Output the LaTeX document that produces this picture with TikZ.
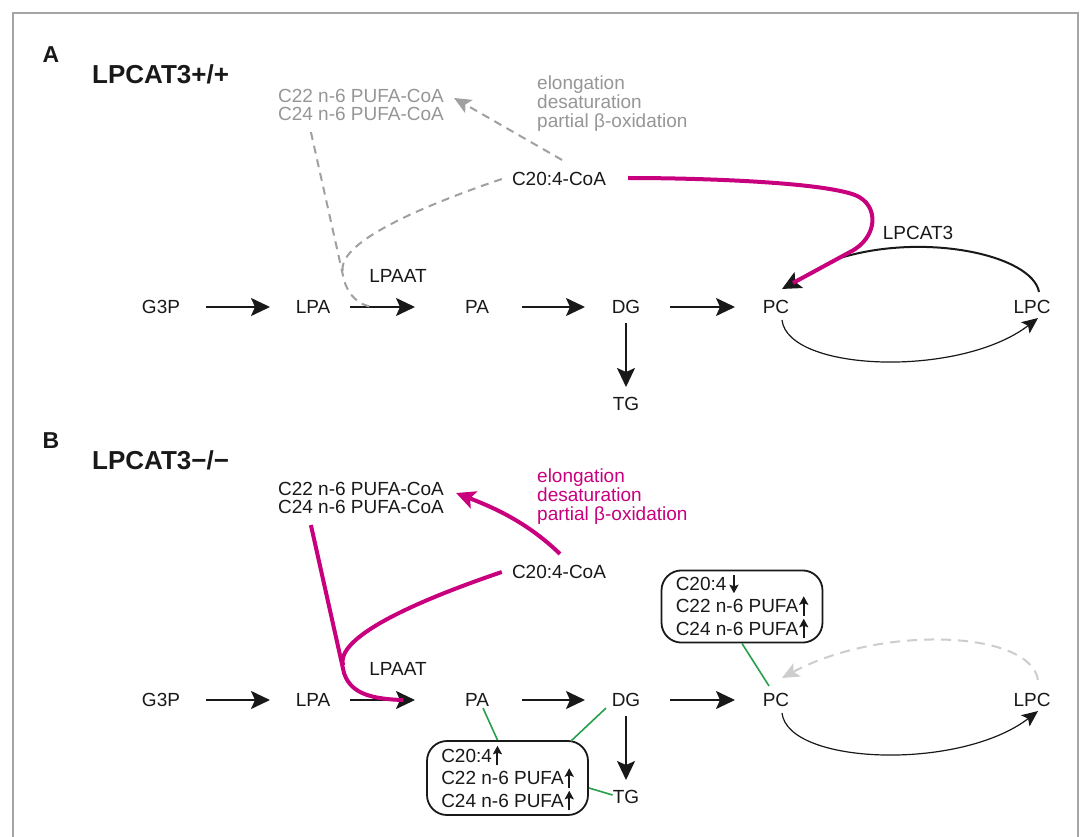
\documentclass[tikz,border=0pt]{standalone}
\usepackage{fontspec}
\setmainfont{Liberation Sans}
\usetikzlibrary{arrows.meta,calc}
\definecolor{mag}{RGB}{200,0,125}
\definecolor{gtxt}{RGB}{150,150,150}
\definecolor{gdash}{RGB}{160,160,160}
\definecolor{lgdash}{RGB}{205,205,205}
\definecolor{grn}{RGB}{40,160,75}
\definecolor{framec}{RGB}{165,165,165}
\definecolor{ink}{RGB}{25,25,25}
\tikzset{
  lbl/.style={inner sep=0pt,text height=13.7pt,text depth=0pt,text=ink},
  arr/.style={draw=ink,line width=2pt,-{Stealth[length=19pt,width=18pt,inset=4pt]}},
  thinarr/.style={draw=ink,line width=1.2pt,-{Stealth[length=16pt,width=14pt,inset=3.5pt]}},
  magl/.style={draw=mag,line width=4pt},
  gdashl/.style={draw=gdash,line width=2pt,dash pattern=on 8pt off 6pt},
  lgdashl/.style={draw=lgdash,line width=2pt,dash pattern=on 10pt off 7pt},
  gline/.style={draw=grn,line width=1.6pt},
  boxs/.style={draw=ink,line width=1.8pt,rounded corners=20pt,minimum width=161pt,
    align=left,inner xsep=12pt,text=ink,font=\fontsize{19}{19.5}\selectfont},
  ttl/.style={inner sep=0pt,text=ink},
  smallarr/.style={draw=ink,line width=2pt,-{Stealth[length=8.5pt,width=9pt,inset=1.5pt]}}
}
\newcommand\uarr{\hspace{1pt}\tikz[baseline=0pt]\draw[smallarr] (0pt,-3pt) -- (0pt,16.5pt);}
\newcommand\darr{\hspace{3pt}\tikz[baseline=0pt]\draw[smallarr] (0pt,15.5pt) -- (0pt,-3pt);}
\newcommand\panelbase[3]{%
  \node[lbl,text=#2] (#1c22a) at (361,96) {C22 n-6 PUFA-CoA};
  \node[lbl,text=#2] (#1c22b) at (361,114) {C24 n-6 PUFA-CoA};
  \node[lbl,text=#3,anchor=west] (#1ela) at (537,83) {elongation};
  \node[lbl,text=#3,anchor=west] (#1elb) at (537,102) {desaturation};
  \node[lbl,text=#3,anchor=west] (#1elc) at (537,121) {partial β-oxidation};
  \node[lbl] (#1coa) at (559,179) {C20:4-CoA};
  \node[lbl] (#1lpaat) at (398,276) {LPAAT};
  \node[lbl] (#1g3p) at (161,307) {G3P};
  \node[lbl] (#1lpa) at (313,307) {LPA};
  \node[lbl] (#1pa) at (477,307) {PA};
  \node[lbl] (#1dg) at (626,307) {DG};
  \node[lbl] (#1pc) at (776,307) {PC};
  \node[lbl] (#1lpc) at (1032,307) {LPC};
  \node[lbl] (#1tg) at (626,404) {TG};
  \draw[arr,shorten <=45pt,shorten >=43pt] (#1g3p.center) -- (#1lpa.center);
  \draw[arr,shorten <=37pt,shorten >=62pt] (#1lpa.center) -- (#1pa.center);
  \draw[arr,shorten <=45pt,shorten >=41pt] (#1pa.center) -- (#1dg.center);
  \draw[arr,shorten <=44pt,shorten >=41pt] (#1dg.center) -- (#1pc.center);
  \draw[arr,shorten <=16pt,shorten >=17pt] (#1dg.center) -- (#1tg.center);
  \draw[thinarr] ($(#1pc.south)+(6,6)$) .. controls (788,372) and (960,378) .. ($(#1lpc.south)+(6,4)$);
}
\begin{document}
\begin{tikzpicture}[x=1pt,y=-1pt,font=\fontsize{19}{19.5}\selectfont]
\useasboundingbox (0,0) rectangle (1084,837);
\fill[white] (0,0) rectangle (1084,837);
\draw[framec,line width=1.3pt] (13,13) rectangle (1078,880);
% titles
\node[ttl,font=\bfseries\fontsize{23}{23}\selectfont,text height=16.5pt,text depth=0pt] (lA) at (51,54) {A};
\node[ttl,font=\bfseries\fontsize{26}{26}\selectfont,text height=18.6pt,text depth=0pt,anchor=west] (tA) at (92,74.5) {LPCAT3+/+};
\node[ttl,font=\bfseries\fontsize{23}{23}\selectfont,text height=16.5pt,text depth=0pt] (lB) at (51,440) {B};
\node[ttl,font=\bfseries\fontsize{26}{26}\selectfont,text height=18.6pt,text depth=0pt,anchor=west] (tB) at (92,460) {LPCAT3−/−};
% ---------- panel A ----------
\begin{scope}
  \panelbase{a}{gtxt}{gtxt}
  \draw[gdashl,-{Stealth[length=17pt,width=15pt,inset=4pt]}] ($(acoa.north)+(3,-12)$) -- ($(ac22a.east)+(10,2)$);
  \draw[gdashl] ($(ac22b.south west)+(33,11)$) -- (344,280) .. controls (349,297) and (360,305) .. (372,307);
  \draw[gdashl] ($(acoa.west)+(-10,0)$) .. controls (440,200) and (335,240) .. (343,272);
  \draw[arr] ($(alpc.north)+(7,-8)$) .. controls (1032,255) and (925,232) .. (840,258) -- ($(apc.north)+(6,-11)$);
  \draw[magl] ($(acoa.east)+(22,-1)$) .. controls (700,178) and (820,182) .. (855,195) .. controls (880,205) and (878,238) .. (850,252) -- ($(apc.north)+(17,-17)$);
  \node[lbl] (alpcat) at (918,233) {LPCAT3};
\end{scope}
% ---------- panel B ----------
\begin{scope}[yshift=-393pt]
  \panelbase{b}{ink}{mag}
  \draw[magl,-{Stealth[length=19pt,width=18pt,inset=4pt]}] ($(bcoa.north)+(1,-11)$) .. controls (530,132) and (500,117) .. ($(bc22a.east)+(12,4)$);
  \draw[magl] ($(bc22b.south west)+(33,11)$) -- (344,280) .. controls (350,298) and (366,306) .. ($(bpa.center)+(-74,0)$);
  \draw[magl] ($(bcoa.west)+(-10,0)$) .. controls (440,200) and (335,240) .. (343,272);
  \draw[lgdashl,-{Stealth[length=17pt,width=15pt,inset=4pt]}] ($(blpc.north)+(6,-13)$) .. controls (1030,237) and (880,232) .. ($(bpc.north)+(6,-15)$);
  \node[boxs,minimum height=74pt] (bboxpa) at (507.5,385) {C20:4\uarr\\C22 n-6 PUFA\uarr\\C24 n-6 PUFA\uarr};
  \node[boxs,minimum height=71pt] (bboxpc) at (742,213.5) {C20:4\darr\\C22 n-6 PUFA\uarr\\C24 n-6 PUFA\uarr};
  \draw[gline] ($(bpa.south)+(6,1)$) -- ($(bboxpa.north)+(-10,0)$);
  \draw[gline] ($(bdg.south)+(-20,1)$) -- ($(bboxpa.north east)+(-18,1)$);
  \draw[gline] ($(bboxpa.east)+(0,10)$) -- ($(btg.west)+(0,-2)$);
  \draw[gline] (bboxpc.south) -- ($(bpc.north)+(-7,-7)$);
\end{scope}
\end{tikzpicture}
\end{document}
